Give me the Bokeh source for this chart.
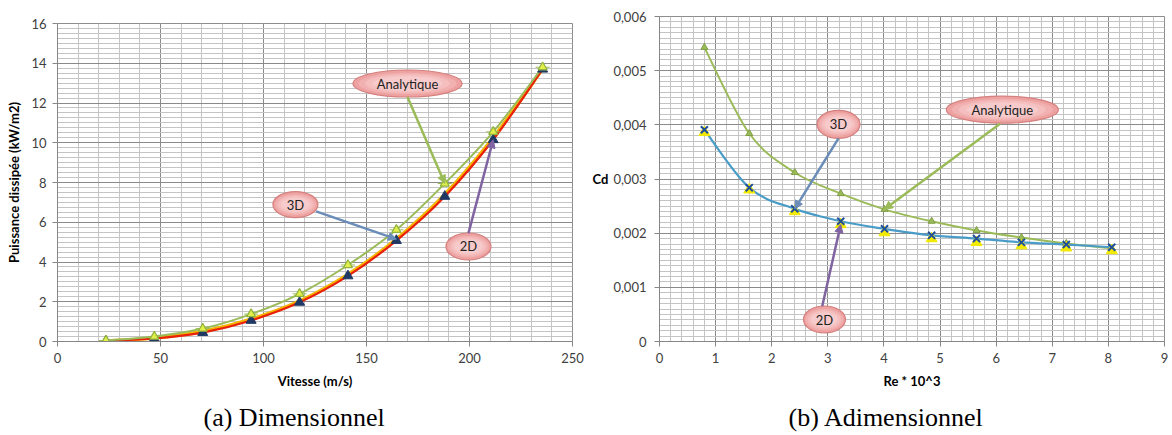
from bokeh.plotting import figure
from bokeh.layouts import row, column
from bokeh.models import (SingleIntervalTicker, CustomJSTickFormatter, Range1d,
                          Arrow, NormalHead, Title, Label, Spacer)
from bokeh.embed import file_html
from bokeh.resources import INLINE

# ---------------- data (a) Dimensionnel ----------------
vitesse = [23.5, 47, 70.5, 94, 117.5, 141, 164.5, 188, 211.5, 235.5]
p_analytique = [0.05, 0.25, 0.65, 1.38, 2.4, 3.85, 5.62, 7.95, 10.55, 13.8]
p_2d = [0.02, 0.15, 0.45, 1.06, 1.97, 3.3, 5.08, 7.3, 10.15, 13.7]
p_3d = [0.03, 0.17, 0.5, 1.12, 2.03, 3.37, 5.15, 7.4, 10.25, 13.72]

# ---------------- data (b) Adimensionnel ----------------
re = [0.8, 1.6, 2.41, 3.23, 4.01, 4.85, 5.65, 6.45, 7.25, 8.06]
cd_analytique = [0.00543, 0.00384, 0.00312, 0.00273, 0.00244, 0.00222, 0.00205, 0.00192, 0.00181, 0.00172]
cd_3d = [0.00391, 0.00284, 0.00245, 0.00222, 0.00208, 0.00196, 0.0019, 0.00183, 0.00179, 0.00174]
cd_2d = [0.00386, 0.0028, 0.0024, 0.00216, 0.00201, 0.0019, 0.00183, 0.00177, 0.00173, 0.00168]

TICK_FONT = "Lato"
GREEN = "#9BBB59"
BLUE = "#4A9CC8"
RED = "#E8200C"
ORANGE = "#F5B400"
NAVY = "#1F3864"
PURPLE = "#8064A2"
STEEL = "#6A8CB8"


def smooth(p, xs, ys, color, width):
    """Excel-like smoothed line: Catmull-Rom segments drawn with bezier glyphs."""
    n = len(xs)
    x0, y0, x1, y1, cx0, cy0, cx1, cy1 = ([] for _ in range(8))
    for i in range(n - 1):
        xp, yp = (xs[i - 1], ys[i - 1]) if i > 0 else (xs[i], ys[i])
        xn, yn = (xs[i + 2], ys[i + 2]) if i + 2 < n else (xs[i + 1], ys[i + 1])
        x0.append(xs[i]); y0.append(ys[i])
        x1.append(xs[i + 1]); y1.append(ys[i + 1])
        cx0.append(xs[i] + (xs[i + 1] - xp) / 6.0)
        cy0.append(ys[i] + (ys[i + 1] - yp) / 6.0)
        cx1.append(xs[i + 1] - (xn - xs[i]) / 6.0)
        cy1.append(ys[i + 1] - (yn - ys[i]) / 6.0)
    p.bezier(x0=x0, y0=y0, x1=x1, y1=y1, cx0=cx0, cy0=cy0, cx1=cx1, cy1=cy1,
             line_color=color, line_width=width)


def callout(p, text, cx, cy, w, h, tx, ty, sx, sy, arrow_color):
    p.add_layout(Arrow(end=NormalHead(size=8, fill_color=arrow_color, line_color=arrow_color),
                       x_start=sx, y_start=sy, x_end=tx, y_end=ty,
                       line_color=arrow_color, line_width=2.5))
    # soft pink gradient approximated with stacked ellipses
    p.ellipse(x=[cx], y=[cy], width=w, height=h, width_units="screen", height_units="screen",
              fill_color="#EDA2A1", line_color="#D4807E", line_width=1.2)
    for k, col in ((0.9, "#F1B1B0"), (0.78, "#F4BFBE"), (0.64, "#F7CBCB")):
        p.ellipse(x=[cx], y=[cy], width=w * k, height=h * (k - 0.1), width_units="screen",
                  height_units="screen", fill_color=col, line_color=None)
    p.add_layout(Label(x=cx, y=cy, text=text, text_align="center", text_baseline="middle",
                       text_font=TICK_FONT, text_font_size="13px", text_color="#222222"))


def style(p, xtick, ytick):
    p.xaxis.ticker = xtick
    p.yaxis.ticker = ytick
    p.xgrid.ticker = xtick
    p.ygrid.ticker = ytick
    for g in (p.xgrid, p.ygrid):
        g.grid_line_color = "#8A8A8A"
        g.grid_line_width = 1
        g.minor_grid_line_color = "#C4C4C4"
        g.minor_grid_line_width = 1
    for ax in (p.xaxis, p.yaxis):
        ax.axis_line_color = "#868686"
        ax.major_tick_line_color = "#868686"
        ax.major_tick_out = 5
        ax.major_tick_in = 0
        ax.minor_tick_line_color = None
        ax.major_label_text_font = TICK_FONT
        ax.major_label_text_font_size = "13px"
        ax.major_label_text_color = "#404040"
        ax.axis_label_text_font = TICK_FONT
        ax.axis_label_text_font_size = "13px"
        ax.axis_label_text_font_style = "bold"
        ax.axis_label_text_color = "#000000"
    p.outline_line_color = "#8E8E8E"
    p.background_fill_color = "white"


# ---------------- figure (a) ----------------
pa = figure(frame_width=515, frame_height=318, output_backend="svg", toolbar_location=None,
            x_range=Range1d(0, 250), y_range=Range1d(0, 16),
            min_border_left=57, min_border_right=13, min_border_top=16, min_border_bottom=94)
style(pa, SingleIntervalTicker(interval=50, num_minor_ticks=5),
      SingleIntervalTicker(interval=2, num_minor_ticks=8))
pa.xaxis.axis_label = "Vitesse (m/s)"
pa.yaxis.axis_label = "Puissance dissipée (kW/m2)"
pa.xaxis.major_label_standoff = 6
pa.yaxis.major_label_standoff = 6
pa.xaxis.axis_label_standoff = 7
pa.yaxis.axis_label_standoff = 6

smooth(pa, vitesse, p_3d, ORANGE, 3.5)
smooth(pa, vitesse, p_2d, RED, 2.2)
smooth(pa, vitesse, p_analytique, GREEN, 2)
pa.scatter(vitesse, p_2d, marker="triangle", size=10, fill_color=NAVY, line_color=NAVY)
pa.scatter(vitesse, p_analytique, marker="dash", size=14, line_color=GREEN, line_width=1)
pa.scatter(vitesse, p_analytique, marker="triangle", size=9, fill_color="#E2EE4A",
           line_color="#8FB33C", line_width=1.2)

callout(pa, "Analytique", 169.9, 12.98, 109, 27, vitesse[7], p_analytique[7], 169.9, 12.3, GREEN)
callout(pa, "3D", 115.5, 6.89, 45, 26, vitesse[6], p_3d[6], 125.5, 6.55, STEEL)
callout(pa, "2D", 199.5, 4.78, 45, 27, vitesse[8], p_2d[8], 199.5, 5.45, PURPLE)

pa.add_layout(Title(text="(a) Dimensionnel", align="left", offset=146,
                    text_font="Liberation Serif", text_font_size="26px",
                    text_font_style="normal", text_color="black", standoff=18), "below")

# ---------------- figure (b) ----------------
pb = figure(frame_width=505, frame_height=325, output_backend="svg", toolbar_location=None,
            x_range=Range1d(0, 9), y_range=Range1d(0, 0.006),
            min_border_left=74, min_border_right=8, min_border_top=16, min_border_bottom=94)
style(pb, SingleIntervalTicker(interval=1, num_minor_ticks=5),
      SingleIntervalTicker(interval=0.001, num_minor_ticks=10))
pb.xaxis.axis_label = "Re * 10^3"
pb.yaxis.axis_label = "Cd"
pb.yaxis.axis_label_orientation = "horizontal"
pb.yaxis.formatter = CustomJSTickFormatter(
    code="return Math.abs(tick) < 1e-9 ? '0' : tick.toFixed(3).replace('.', ',');")
pb.xaxis.major_label_standoff = 6
pb.yaxis.major_label_standoff = 8
pb.xaxis.axis_label_standoff = 7
pb.yaxis.axis_label_standoff = 2

smooth(pb, re, cd_analytique, GREEN, 2)
smooth(pb, re, cd_3d, BLUE, 2.2)
pb.scatter(re, cd_analytique, marker="triangle", size=7, fill_color=GREEN, line_color="#7F9E45")
pb.scatter(re, cd_2d, marker="triangle", size=11, fill_color="#F2EA00", line_color="#F2EA00")
pb.scatter(re, cd_3d, marker="x", size=10, line_color="#1F4E9A", line_width=2)

callout(pb, "3D", 3.19, 0.00401, 43, 28, re[2], cd_3d[2], 3.19, 0.00375, STEEL)
callout(pb, "Analytique", 6.11, 0.00428, 112, 27, re[4], cd_analytique[4], 6.07, 0.00402, GREEN)
callout(pb, "2D", 2.94, 0.000406, 42, 27, re[3], cd_2d[3], 2.9, 0.00065, PURPLE)

pb.add_layout(Title(text="(b) Adimensionnel", align="left", offset=129,
                    text_font="Liberation Serif", text_font_size="26px",
                    text_font_style="normal", text_color="black", standoff=18), "below")

layout = row(column(Spacer(height=7), pa), pb)
open("out.html", "w").write(file_html(layout, INLINE))
